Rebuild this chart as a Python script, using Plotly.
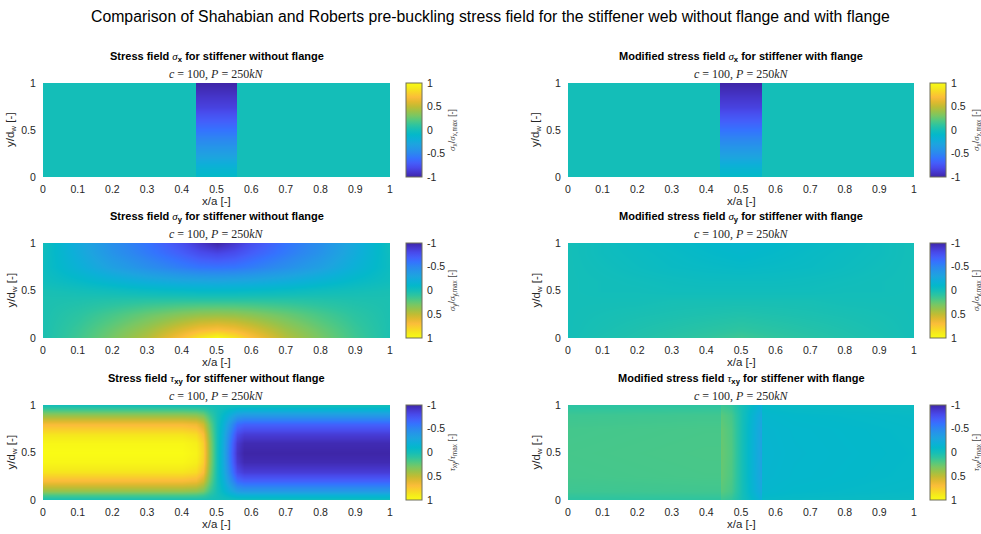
import plotly.graph_objects as go

# ---------------------------------------------------------------- colormap
PARULA = [
    (0.00, (62, 38, 168)), (0.05, (70, 55, 205)), (0.10, (72, 74, 235)),
    (0.15, (68, 94, 250)), (0.20, (52, 115, 254)), (0.25, (44, 135, 240)),
    (0.30, (36, 151, 231)), (0.35, (29, 164, 223)), (0.40, (13, 175, 216)),
    (0.45, (4, 184, 202)), (0.50, (20, 190, 184)), (0.55, (45, 196, 160)),
    (0.60, (80, 200, 130)), (0.65, (120, 199, 100)), (0.70, (155, 194, 72)),
    (0.75, (192, 188, 52)), (0.80, (226, 185, 47)), (0.85, (251, 189, 58)),
    (0.90, (248, 212, 40)), (0.95, (245, 235, 27)), (1.00, (249, 251, 21)),
]
parula = [[t, f"rgb({r},{g},{b})"] for t, (r, g, b) in PARULA]

# ---------------------------------------------------------------- data
# sigma_x : non-zero only inside the loaded stiffener strip
sx_x = [0.0, 0.4395, 0.4405, 0.5595, 0.5605, 1.0]
sx_y = [0.0, 0.1, 0.25, 0.5, 0.75, 1.0]
sx_noflange = [
    [0.0, 0.0, -0.08, -0.08, 0.0, 0.0],
    [0.0, 0.0, -0.15, -0.15, 0.0, 0.0],
    [0.0, 0.0, -0.33, -0.33, 0.0, 0.0],
    [0.0, 0.0, -0.60, -0.60, 0.0, 0.0],
    [0.0, 0.0, -0.84, -0.84, 0.0, 0.0],
    [0.0, 0.0, -1.00, -1.00, 0.0, 0.0],
]
sx_flange = [
    [0.0, 0.0, -0.08, -0.08, 0.0, 0.0],
    [0.0, 0.0, -0.15, -0.15, 0.0, 0.0],
    [0.0, 0.0, -0.33, -0.33, 0.0, 0.0],
    [0.0, 0.0, -0.60, -0.60, 0.0, 0.0],
    [0.0, 0.0, -0.84, -0.84, 0.0, 0.0],
    [0.0, 0.0, -1.00, -1.00, 0.0, 0.0],
]

# sigma_y
sy_x = [0.0, 0.1, 0.2, 0.3, 0.4, 0.45, 0.5, 0.55, 0.6, 0.7, 0.8, 0.9, 1.0]
sy_y = [0.0, 0.1, 0.25, 0.4, 0.5, 0.6, 0.75, 0.9, 1.0]
sy_noflange = [
    [0.03, 0.15, 0.30, 0.47, 0.72, 0.88, 1.00, 0.88, 0.72, 0.47, 0.30, 0.15, 0.03],
    [0.03, 0.13, 0.26, 0.40, 0.58, 0.66, 0.70, 0.66, 0.58, 0.40, 0.26, 0.13, 0.03],
    [0.03, 0.09, 0.17, 0.26, 0.34, 0.37, 0.38, 0.37, 0.34, 0.26, 0.17, 0.09, 0.03],
    [0.03, 0.04, 0.06, 0.08, 0.09, 0.09, 0.09, 0.09, 0.09, 0.08, 0.06, 0.04, 0.03],
    [0.02, 0.00, -0.02, -0.05, -0.07, -0.08, -0.08, -0.08, -0.07, -0.05, -0.02, 0.00, 0.02],
    [-0.02, -0.08, -0.15, -0.22, -0.27, -0.28, -0.29, -0.28, -0.27, -0.22, -0.15, -0.08, -0.02],
    [-0.04, -0.18, -0.33, -0.45, -0.55, -0.59, -0.60, -0.59, -0.55, -0.45, -0.33, -0.18, -0.04],
    [-0.03, -0.23, -0.42, -0.56, -0.70, -0.78, -0.82, -0.78, -0.70, -0.56, -0.42, -0.23, -0.03],
    [-0.02, -0.25, -0.45, -0.60, -0.78, -0.90, -1.00, -0.90, -0.78, -0.60, -0.45, -0.25, -0.02],
]
sy_flange = [
    [0.00, 0.03, 0.05, 0.08, 0.11, 0.13, 0.15, 0.13, 0.11, 0.08, 0.05, 0.03, 0.00],
    [0.00, 0.02, 0.04, 0.06, 0.08, 0.09, 0.10, 0.09, 0.08, 0.06, 0.04, 0.02, 0.00],
    [0.00, 0.01, 0.02, 0.03, 0.04, 0.045, 0.05, 0.045, 0.04, 0.03, 0.02, 0.01, 0.00],
    [0.00, 0.00, 0.00, 0.01, 0.01, 0.01, 0.01, 0.01, 0.01, 0.01, 0.00, 0.00, 0.00],
    [0.00, -0.01, -0.01, -0.02, -0.02, -0.02, -0.02, -0.02, -0.02, -0.02, -0.01, -0.01, 0.00],
    [0.00, -0.01, -0.02, -0.03, -0.04, -0.04, -0.04, -0.04, -0.04, -0.03, -0.02, -0.01, 0.00],
    [0.00, -0.02, -0.04, -0.06, -0.07, -0.075, -0.08, -0.075, -0.07, -0.06, -0.04, -0.02, 0.00],
    [0.00, -0.03, -0.05, -0.07, -0.09, -0.10, -0.11, -0.10, -0.09, -0.07, -0.05, -0.03, 0.00],
    [0.00, -0.03, -0.06, -0.08, -0.10, -0.12, -0.13, -0.12, -0.10, -0.08, -0.06, -0.03, 0.00],
]

# tau_xy without flange
txy_x = [0.0, 0.40, 0.44, 0.46, 0.48, 0.50, 0.52, 0.54, 0.56, 0.58, 1.0]
txy_y = [0.0, 0.05, 0.1, 0.2, 0.3, 0.4, 0.5, 0.6, 0.7, 0.8, 0.9, 0.95, 1.0]
txy_noflange = [
    [0.00, 0.00, 0.00, 0.00, 0.00, 0.00, 0.00, 0.00, 0.00, 0.00, 0.00],
    [0.18, 0.18, 0.17, 0.14, 0.06, 0.00, -0.05, -0.11, -0.17, -0.18, -0.18],
    [0.38, 0.38, 0.36, 0.30, 0.13, 0.00, -0.10, -0.23, -0.35, -0.38, -0.38],
    [0.68, 0.68, 0.65, 0.54, 0.24, 0.00, -0.17, -0.41, -0.63, -0.68, -0.68],
    [0.87, 0.87, 0.83, 0.70, 0.30, 0.00, -0.22, -0.52, -0.80, -0.87, -0.87],
    [0.97, 0.97, 0.92, 0.78, 0.34, 0.00, -0.24, -0.58, -0.89, -0.97, -0.97],
    [1.00, 1.00, 0.95, 0.80, 0.35, 0.00, -0.25, -0.60, -0.92, -1.00, -1.00],
    [0.97, 0.97, 0.92, 0.78, 0.34, 0.00, -0.24, -0.58, -0.89, -0.97, -0.97],
    [0.87, 0.87, 0.83, 0.70, 0.30, 0.00, -0.22, -0.52, -0.80, -0.87, -0.87],
    [0.68, 0.68, 0.65, 0.54, 0.24, 0.00, -0.17, -0.41, -0.63, -0.68, -0.68],
    [0.38, 0.38, 0.36, 0.30, 0.13, 0.00, -0.10, -0.23, -0.35, -0.38, -0.38],
    [0.18, 0.18, 0.17, 0.14, 0.06, 0.00, -0.05, -0.11, -0.17, -0.18, -0.18],
    [0.00, 0.00, 0.00, 0.00, 0.00, 0.00, 0.00, 0.00, 0.00, 0.00, 0.00],
]

# tau_xy with flange
txyf_x = [0.0, 0.40, 0.439, 0.441, 0.47, 0.50, 0.53, 0.559, 0.561, 0.65, 1.0]
txyf_y = [0.0, 0.1, 0.25, 0.5, 0.75, 0.9, 1.0]
txy_flange = [
    [0.09, 0.10, 0.10, 0.14, 0.11, 0.01, -0.08, -0.18, -0.08, -0.07, -0.05],
    [0.145, 0.155, 0.155, 0.22, 0.17, 0.02, -0.13, -0.27, -0.12, -0.10, -0.075],
    [0.165, 0.175, 0.175, 0.25, 0.19, 0.02, -0.145, -0.31, -0.135, -0.115, -0.085],
    [0.17, 0.18, 0.18, 0.26, 0.20, 0.02, -0.15, -0.32, -0.14, -0.12, -0.09],
    [0.165, 0.175, 0.175, 0.25, 0.19, 0.02, -0.145, -0.31, -0.135, -0.115, -0.085],
    [0.145, 0.155, 0.155, 0.22, 0.17, 0.02, -0.13, -0.27, -0.12, -0.10, -0.075],
    [0.09, 0.10, 0.10, 0.14, 0.11, 0.01, -0.08, -0.18, -0.08, -0.07, -0.05],
]

x_ticks = [0, 0.1, 0.2, 0.3, 0.4, 0.5, 0.6, 0.7, 0.8, 0.9, 1]
x_ticklabels = ["0", "0.1", "0.2", "0.3", "0.4", "0.5", "0.6", "0.7", "0.8", "0.9", "1"]
y_ticks = [0, 0.5, 1]
y_ticklabels = ["0", "0.5", "1"]
cb_ticks = [-1, -0.5, 0, 0.5, 1]
cb_labels = ["-1", "-0.5", "0", "0.5", "1"]

main_title = ("Comparison of Shahabian and Roberts pre-buckling stress field "
              "for the stiffener web without flange and with flange")
load_case = "<i>c</i> = 100, <i>P</i> = 250<i>kN</i>"


def greek(ch):
    return (f"<span style='font-family:Liberation Serif;font-weight:normal'>"
            f"<i>{ch}</i></span>")


SIG, TAU = greek("σ"), greek("τ")

panels = [
    # (row, col, x, y, z, title, colorbar title, reversed bar)
    (0, 0, sx_x, sx_y, sx_noflange,
     f"Stress field {SIG}<sub>x</sub> for stiffener without flange",
     f"{SIG}<sub>x</sub>/{SIG}<sub>x,max</sub> [-]", False),
    (0, 1, sx_x, sx_y, sx_flange,
     f"Modified stress field {SIG}<sub>x</sub> for stiffener with flange",
     f"{SIG}<sub>x</sub>/{SIG}<sub>x,max</sub> [-]", False),
    (1, 0, sy_x, sy_y, sy_noflange,
     f"Stress field {SIG}<sub>y</sub> for stiffener without flange",
     f"{SIG}<sub>y</sub>/{SIG}<sub>y,max</sub> [-]", True),
    (1, 1, sy_x, sy_y, sy_flange,
     f"Modified stress field {SIG}<sub>y</sub> for stiffener with flange",
     f"{SIG}<sub>y</sub>/{SIG}<sub>y,max</sub> [-]", True),
    (2, 0, txy_x, txy_y, txy_noflange,
     f"Stress field {TAU}<sub>xy</sub> for stiffener without flange",
     f"{TAU}<sub>xy</sub>/{TAU}<sub>max</sub> [-]", True),
    (2, 1, txyf_x, txyf_y, txy_flange,
     f"Modified stress field {TAU}<sub>xy</sub> for stiffener with flange",
     f"{TAU}<sub>xy</sub>/{TAU}<sub>max</sub> [-]", True),
]

# ---------------------------------------------------------------- layout (pixels)
W, H = 981, 534
COL_X = [(43, 390), (568, 914)]              # plot area left/right
ROW_Y = [(83, 177), (243, 338), (405, 500)]  # plot area top/bottom
CB_X = [406, 930]
CB_W = 16
YLAB_X = [11, 536]

TXT = "rgb(38,38,38)"
SANS = "Liberation Sans, Arial, sans-serif"


def px(x):
    return x / W


def py(y):
    return 1 - y / H


fig = go.Figure()
annotations = []

for i, (r, c, xs, ys, z, title, cbt, rev) in enumerate(panels):
    k = i + 1
    xa = "x" if k == 1 else f"x{k}"
    ya = "y" if k == 1 else f"y{k}"
    x0, x1 = COL_X[c]
    y0, y1 = ROW_Y[r]

    if rev:
        # colour bar runs from -1 at the top to 1 at the bottom
        zz = [[-v for v in row] for row in z]
        ticktext = list(reversed(cb_labels))
    else:
        zz = z
        ticktext = cb_labels

    fig.add_trace(go.Heatmap(
        x=xs, y=ys, z=zz, customdata=z,
        colorscale=parula, reversescale=rev,
        zmin=-1, zmax=1, zsmooth="best",
        xaxis=xa, yaxis=ya,
        hovertemplate="x/a=%{x}<br>y/d=%{y}<br>%{customdata}<extra></extra>",
        colorbar=dict(
            x=px(CB_X[c]), xanchor="left", xref="paper",
            y=py((y0 + y1) / 2), yanchor="middle",
            lenmode="pixels", len=y1 - y0,
            thickness=CB_W, thicknessmode="pixels",
            xpad=0, ypad=0,
            outlinewidth=1, outlinecolor="rgb(110,110,90)",
            tickvals=cb_ticks, ticktext=ticktext,
            ticks="outside", ticklen=3, tickcolor="rgba(0,0,0,0)",
            tickfont=dict(size=10.5, color=TXT, family=SANS),
            title=dict(text=cbt, side="right",
                       font=dict(size=9, color="rgb(70,70,70)", family=SANS)),
        ),
    ))

    tf = dict(size=10.5, color=TXT, family=SANS)
    fig.layout[("xaxis" if k == 1 else f"xaxis{k}")] = dict(
        domain=[px(x0), px(x1)], range=[0, 1], anchor=ya,
        showgrid=False, zeroline=False, showline=False,
        ticks="outside", ticklen=2, tickcolor="rgba(0,0,0,0)", tickfont=tf,
        tickvals=x_ticks, ticktext=x_ticklabels)
    fig.layout[("yaxis" if k == 1 else f"yaxis{k}")] = dict(
        domain=[py(y1), py(y0)], range=[0, 1], anchor=xa,
        showgrid=False, zeroline=False, showline=False,
        ticks="outside", ticklen=4, tickcolor="rgba(0,0,0,0)", tickfont=tf,
        tickvals=y_ticks, ticktext=y_ticklabels)

    cx = (x0 + x1) / 2
    annotations += [
        dict(text=f"<b>{title}</b>", x=px(cx), y=py(y0 - 26),
             font=dict(size=11, color="black", family=SANS)),
        dict(text=load_case, x=px(cx), y=py(y0 - 9),
             font=dict(size=12, color=TXT, family="Liberation Serif, serif")),
        dict(text="x/a [-]", x=px(cx), y=py(y1 + 24),
             font=dict(size=11.5, color=TXT, family=SANS)),
        dict(text="y/d<sub>w</sub> [-]", x=px(YLAB_X[c]), y=py((y0 + y1) / 2),
             textangle=-90, font=dict(size=11.5, color=TXT, family=SANS)),
    ]

annotations.append(dict(text=main_title, x=0.5, y=py(17),
                        font=dict(size=15.8, color="black", family=SANS)))
for a in annotations:
    a.update(xref="paper", yref="paper", showarrow=False,
             xanchor="center", yanchor="middle")

fig.update_layout(
    width=W, height=H,
    margin=dict(l=0, r=0, t=0, b=0, pad=0, autoexpand=False),
    paper_bgcolor="white", plot_bgcolor="white",
    annotations=annotations,
    showlegend=False,
)

fig.write_html("out.html")
